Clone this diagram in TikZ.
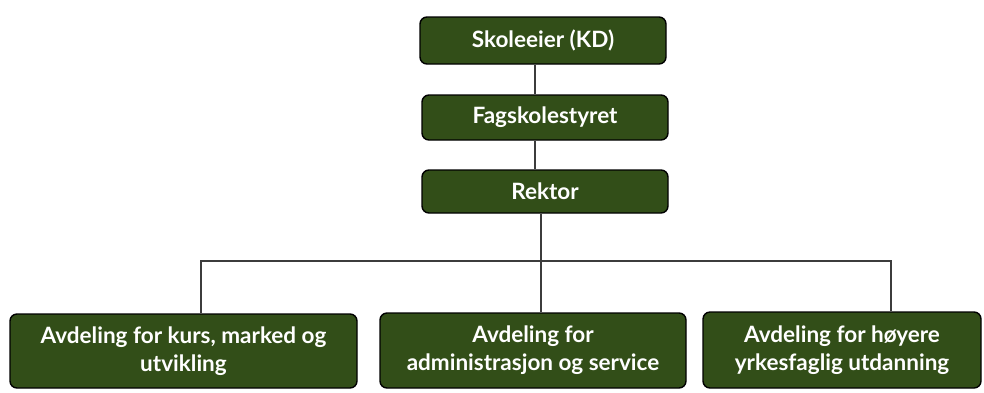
\documentclass[tikz,border=0pt]{standalone}
\usepackage{fontspec}
\setmainfont{Lato}
\definecolor{boxgreen}{RGB}{50,78,24}
\definecolor{linegray}{RGB}{60,60,60}
\begin{document}
\begin{tikzpicture}[x=1pt,y=-1pt,
  orgbox/.style={draw=black, line width=1.4pt, fill=boxgreen, rounded corners=7pt,
    text=white, font=\bfseries\fontsize{22.5}{28}\selectfont, align=center,
    inner sep=0pt, anchor=center},
  link/.style={draw=linegray, line width=1.1pt}]
\useasboundingbox (0,0) rectangle (984,392);
\node[orgbox, minimum width=246pt, minimum height=47pt] (sk) at (543,40.5) {Skoleeier (KD)};
\node[orgbox, minimum width=246pt, minimum height=45pt] (fs) at (545,117.5) {Fagskolestyret};
\node[orgbox, minimum width=246pt, minimum height=43pt] (rk) at (545,191.5) {Rektor};
\node[orgbox, minimum width=347pt, minimum height=74pt] (b1) at (183.5,351) {Avdeling for kurs, marked og\\utvikling};
\node[orgbox, minimum width=306pt, minimum height=75pt] (b2) at (533,350.5) {Avdeling for\\administrasjon og service};
\node[orgbox, minimum width=278pt, minimum height=76pt] (b3) at (842,350) {Avdeling for høyere\\yrkesfaglig utdanning};
\coordinate (t1) at (535,0);
\coordinate (hub) at (541,261);
\begin{scope}[on background layer/.try]
\draw[link] (sk.south -| t1) -- (fs.north -| t1);
\draw[link] (fs.south -| t1) -- (rk.north -| t1);
\draw[link] (rk.south -| hub) -- (hub);
\draw[link] (b1.north -| 201,0) |- (hub) -| (b3.north -| 891,0);
\draw[link] (hub) -- (b2.north -| hub);
\end{scope}
\end{tikzpicture}
\end{document}
